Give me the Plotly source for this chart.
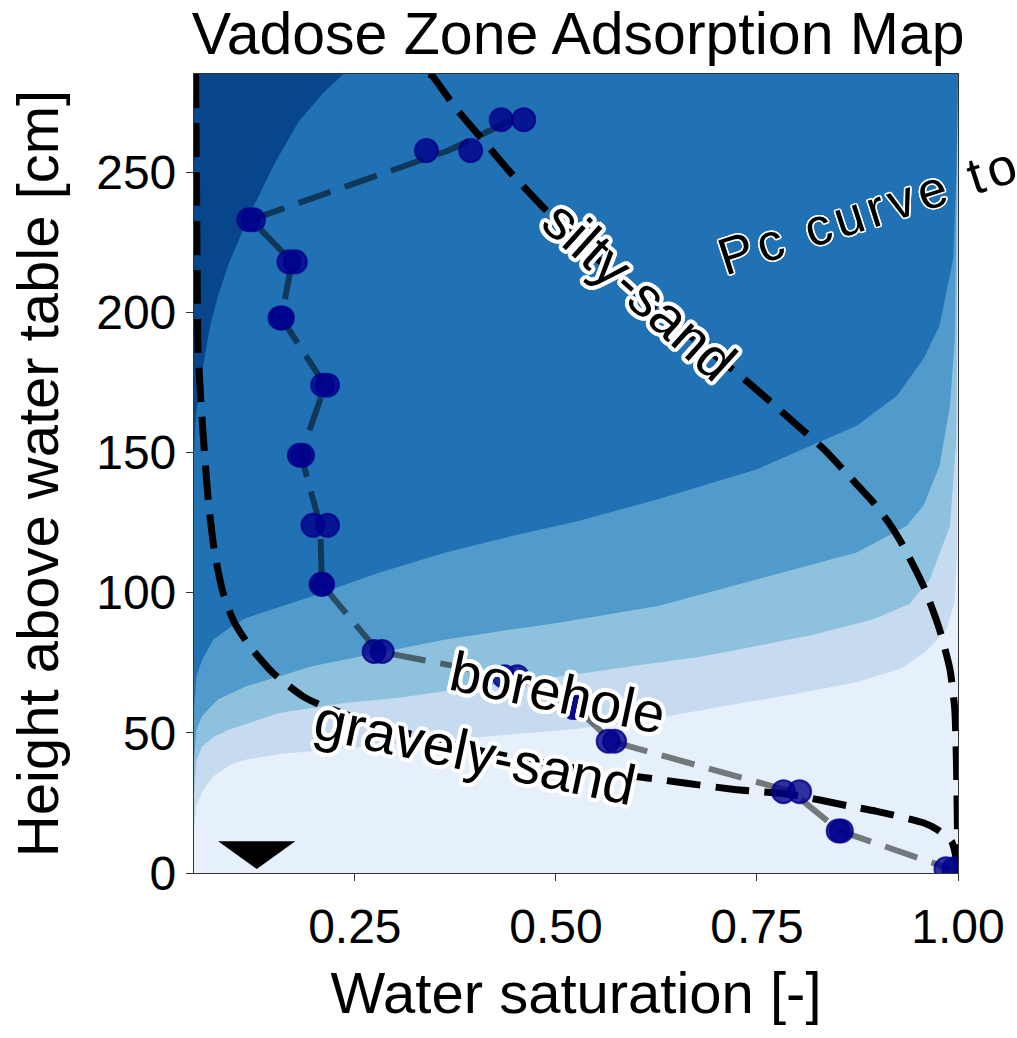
import math
import plotly.graph_objects as go

# ---------------- data ----------------
X_RANGE = [0.05, 1.0]
Y_RANGE = [0, 285]

x_tickvals = [0.25, 0.50, 0.75, 1.00]
x_ticktext = ["0.25", "0.50", "0.75", "1.00"]
y_tickvals = [0, 50, 100, 150, 200, 250]

# contour band boundaries (lightest -> darkest), y as a function of saturation
b1_x = [0.050, 0.053, 0.060, 0.074, 0.095, 0.115, 0.160, 0.200, 0.280, 0.360, 0.450, 0.530, 0.620, 0.710, 0.800, 0.874, 0.930, 0.960, 0.986, 0.996, 0.999, 1.000]
b1_y = [16, 24, 29, 34.5, 38.5, 40.5, 42.5, 43.5, 45.5, 47.5, 49.5, 51.5, 55, 59.5, 64, 68, 73, 79, 87, 97, 115, 285]

b2_x = [0.050, 0.053, 0.060, 0.074, 0.094, 0.156, 0.239, 0.305, 0.363, 0.450, 0.528, 0.600, 0.676, 0.750, 0.820, 0.895, 0.940, 0.965, 0.990, 0.998, 1.000]
b2_y = [28, 40, 45, 48.5, 51.2, 57.1, 60.7, 62.5, 64.9, 68, 71, 74, 77, 81, 85, 90.5, 96, 104.8, 123.8, 154.8, 285]

b3_x = [0.050, 0.053, 0.060, 0.080, 0.115, 0.198, 0.280, 0.363, 0.445, 0.503, 0.627, 0.750, 0.874, 0.936, 0.957, 0.977, 0.990, 0.996, 1.000]
b3_y = [40, 51, 56, 62, 66.6, 73.8, 78.6, 83.3, 86.9, 89.3, 95.2, 104.8, 114.3, 123.8, 131, 145.2, 166.6, 190.5, 285]

b4_x = [0.050, 0.053, 0.060, 0.074, 0.099, 0.115, 0.198, 0.280, 0.363, 0.445, 0.528, 0.627, 0.750, 0.874, 0.924, 0.957, 0.977, 0.994, 0.998, 1.000]
b4_y = [58, 70, 76, 83.3, 88.5, 91, 98.8, 107.1, 114.3, 120.2, 125.6, 133.3, 144, 159.5, 170.2, 183.3, 195.2, 219, 250, 285]

b5_x = [0.050, 0.052, 0.056, 0.062, 0.070, 0.080, 0.094, 0.121, 0.150, 0.180, 0.210, 0.236]
b5_y = [150, 162, 172, 182, 195, 206, 218, 236, 253, 268, 278, 285]

band_colors = ["#e6f0fa", "#c6dbef", "#8dc1dd", "#509bcb", "#2171b5", "#08468c"]

# Pc curves
silty_x = [0.342, 0.346, 0.375, 0.406, 0.440, 0.482, 0.540, 0.600, 0.670, 0.734, 0.785, 0.833, 0.868, 0.895, 0.915, 0.932, 0.957, 0.977, 0.990, 0.996, 0.998, 0.999, 0.9995, 1.000]
silty_y = [285, 284.4, 273, 262.5, 251, 238.1, 222, 207, 191, 176.2, 163.5, 151.2, 140.5, 132.1, 124.5, 116.6, 102.4, 86.9, 72.6, 58.3, 40.5, 22.6, 10, 0]

gravel_x = [0.052, 0.053, 0.054, 0.055, 0.059, 0.063, 0.068, 0.075, 0.086, 0.100, 0.119, 0.148, 0.185, 0.206, 0.250, 0.300, 0.350, 0.400, 0.450, 0.500, 0.550, 0.614, 0.660, 0.722, 0.792, 0.866, 0.899, 0.957, 0.974, 0.992, 0.998, 1.000]
gravel_y = [285, 250, 210, 186.9, 166.6, 150.1, 132.3, 115.5, 100.1, 89.5, 81.0, 71.4, 63.1, 60.1, 55.5, 51, 47.5, 44, 41, 38.5, 36.3, 33.9, 32.1, 29.8, 28.0, 23.8, 22.0, 17.9, 15.5, 11.3, 4.8, 0]

# borehole measurements (two readings per depth)
bh_height = [268.7, 257.7, 233, 218, 198, 174, 149, 124, 103, 79, 70, 59, 47, 29, 15, 1.5]
bh_sat_a = [0.432, 0.339, 0.118, 0.168, 0.157, 0.210, 0.181, 0.198, 0.208, 0.274, 0.436, 0.522, 0.565, 0.783, 0.851, 0.985]
bh_sat_b = [0.460, 0.394, 0.124, 0.176, 0.160, 0.216, 0.185, 0.216, 0.210, 0.284, 0.452, 0.528, 0.573, 0.803, 0.855, 0.995]

# water table marker
wt_x = 0.128
wt_y = 1.4
wt_half_width = 0.048
wt_height = 9.9

FONT = "Liberation Sans, Arial, sans-serif"

# ---------------- figure ----------------
fig = go.Figure()

boundaries = [(b1_x, b1_y), (b2_x, b2_y), (b3_x, b3_y), (b4_x, b4_y), (b5_x, b5_y)]
for (bx, by), col in zip(boundaries, band_colors[1:]):
    px = list(bx) + [X_RANGE[0]]
    py = [min(v, Y_RANGE[1]) for v in by] + [Y_RANGE[1]]
    fig.add_trace(go.Scatter(x=px, y=py, mode="lines", fill="toself",
                             fillcolor=col, line=dict(width=0, color=col),
                             hoverinfo="skip", showlegend=False))

dash = "34px,15px"
fig.add_trace(go.Scatter(x=silty_x, y=silty_y, mode="lines",
                         line=dict(color="black", width=7, dash=dash,
                                   shape="spline", smoothing=0.6),
                         showlegend=False))
fig.add_trace(go.Scatter(x=gravel_x, y=gravel_y, mode="lines",
                         line=dict(color="black", width=7, dash=dash,
                                   shape="spline", smoothing=0.6),
                         showlegend=False))

bh_mean = [(a + b) / 2 for a, b in zip(bh_sat_a, bh_sat_b)]
fig.add_trace(go.Scatter(x=bh_mean, y=bh_height, mode="lines",
                         line=dict(color="rgba(0,0,0,0.5)", width=6, dash=dash),
                         showlegend=False))
for sat in (bh_sat_a, bh_sat_b):
    fig.add_trace(go.Scatter(x=sat, y=bh_height, mode="markers",
                             marker=dict(size=23, color="rgba(0,0,139,0.8)",
                                         line=dict(color="rgba(0,0,139,0.8)", width=2)),
                             showlegend=False))

# water-table triangle
tri = (f"M {wt_x - wt_half_width},{wt_y + wt_height} "
       f"L {wt_x + wt_half_width},{wt_y + wt_height} L {wt_x},{wt_y} Z")
fig.add_shape(type="path", path=tri, xref="x", yref="y",
              fillcolor="black", line=dict(width=0), layer="above")


def halo(r, n=16):
    parts = []
    for k in range(n):
        a = 2 * math.pi * k / n
        parts.append(f"{r * math.cos(a):.1f}px {r * math.sin(a):.1f}px 0px white")
    return ", ".join(parts)


labels = [
    ("silty-sand", 0.604, 207.6, 42, 56, halo(4)),
    ("borehole", 0.502, 64.5, 12, 56, halo(4)),
    ("gravely-sand", 0.399, 43.2, 12, 57, halo(4)),
    ('<span style="letter-spacing:5px">Pc curve to</span>', 0.890, 236.5, -18, 52, halo(1.5, 12)),
]
for txt, lx, ly, ang, fs, sh in labels:
    fig.add_annotation(x=lx, y=ly, xref="x", yref="y", text=txt,
                       showarrow=False, textangle=ang,
                       xanchor="center", yanchor="middle",
                       font=dict(family=FONT, size=fs, color="black", shadow=sh))

axis_common = dict(showgrid=False, zeroline=False, showline=True, mirror=True,
                   linecolor="#333333", linewidth=1.2, ticks="outside",
                   ticklen=7, tickwidth=1.2, tickcolor="#333333",
                   tickfont=dict(family=FONT, size=48, color="black"))

fig.update_layout(
    width=1017, height=1038,
    margin=dict(l=194, r=55, t=74, b=165),
    paper_bgcolor="white", plot_bgcolor=band_colors[0],
    title=dict(text="Vadose Zone Adsorption Map", x=0.5685, xanchor="center",
               y=0.988, yanchor="top", yref="container",
               font=dict(family=FONT, size=59, color="black")),
    xaxis=dict(range=X_RANGE, tickvals=x_tickvals, ticktext=x_ticktext,
               title=dict(text="Water saturation [-]", standoff=20,
                          font=dict(family=FONT, size=58, color="black")),
               ticklabelstandoff=4, **axis_common),
    yaxis=dict(range=Y_RANGE, tickvals=y_tickvals,
               title=dict(text="Height above water table [cm]", standoff=18,
                          font=dict(family=FONT, size=58, color="black")),
               ticklabelstandoff=0, **axis_common),
)

fig.write_html("out.html")
